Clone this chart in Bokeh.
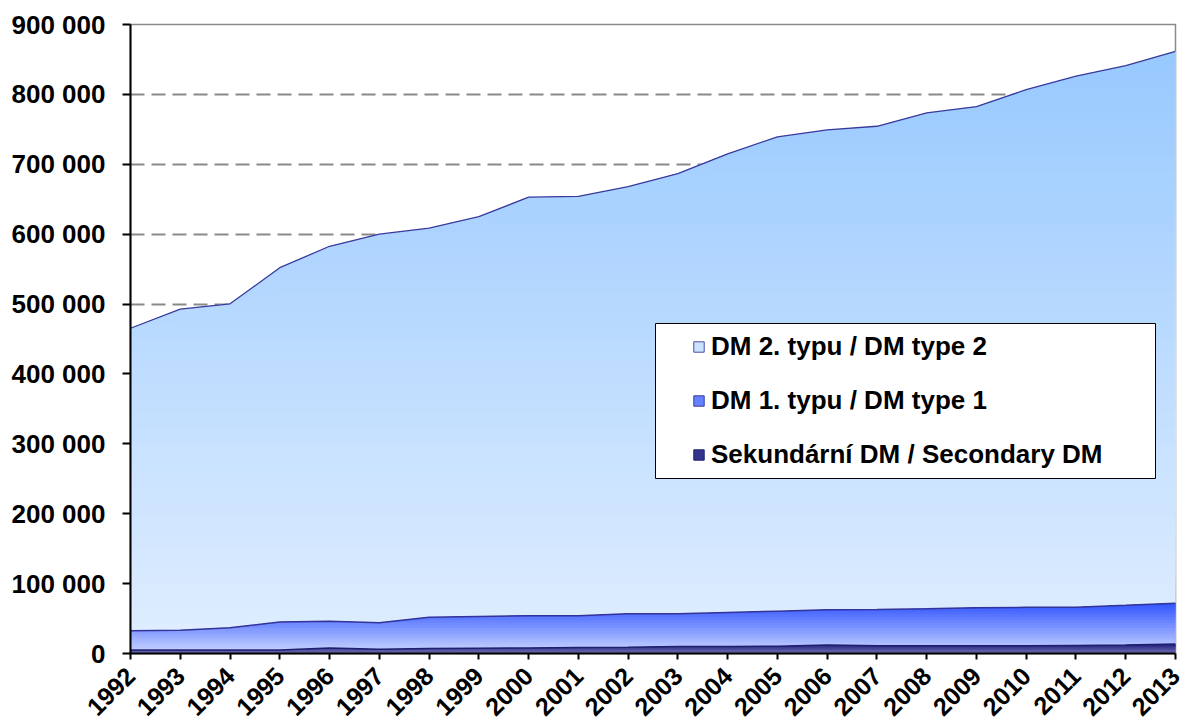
import math
import numpy as np
from bokeh.plotting import figure
from bokeh.models import Range1d, FixedTicker, Legend, LegendItem, BoxAnnotation
from bokeh.embed import file_html
from bokeh.resources import INLINE

# ---------------- data ----------------
years = list(range(1992, 2014))
secondary = [5000, 5000, 5000, 5000, 8000, 6000, 7000, 7500, 8000, 8500, 9000,
             10000, 10000, 10500, 12000, 11000, 11000, 11000, 11000, 11500, 12000, 13500]
type1 = [27500, 28400, 32000, 40000, 38000, 37900, 45000, 45500, 46000, 45500, 47800,
         46800, 48700, 50000, 50500, 52000, 53000, 54400, 55000, 54800, 57000, 58500]
type2 = [432900, 459200, 463300, 507000, 536700, 556100, 556500, 572000, 599000, 600000, 611200,
         629900, 656300, 678700, 686700, 691400, 709500, 717100, 740700, 759700, 772000, 789600]
series_names = ["DM 2. typu / DM type 2", "DM 1. typu / DM type 1", "Sekundární DM / Secondary DM"]
y_ticks = [0, 100000, 200000, 300000, 400000, 500000, 600000, 700000, 800000, 900000]
y_tick_labels = ["0", "100 000", "200 000", "300 000", "400 000", "500 000",
                 "600 000", "700 000", "800 000", "900 000"]

x = np.array(years, dtype=float)
s0 = np.zeros(len(years))
s1 = s0 + np.array(secondary, dtype=float)
s2 = s1 + np.array(type1, dtype=float)
s3 = s2 + np.array(type2, dtype=float)

FONT = "Liberation Sans"

p = figure(frame_width=1045, frame_height=629,
           x_range=Range1d(1992, 2013), y_range=Range1d(0, 900000),
           output_backend="svg", toolbar_location=None,
           min_border_left=130, min_border_right=6, min_border_top=24, min_border_bottom=72,
           background_fill_color="white", border_fill_color="white")


def hex2rgb(h):
    h = h.lstrip("#")
    return tuple(int(h[i:i + 2], 16) for i in (0, 2, 4))


def mix(c0, c1, t):
    a, b = hex2rgb(c0), hex2rgb(c1)
    return "#%02x%02x%02x" % tuple(int(round(a[i] + (b[i] - a[i]) * t)) for i in range(3))


def gradient_area(lower, upper, lo_level, hi_level, c_lo, c_hi, n):
    for k in range(n):
        level = lo_level + (hi_level - lo_level) * k / n
        y1 = np.minimum(np.maximum(level, lower), upper)
        p.varea(x=x, y1=y1, y2=upper, fill_color=mix(c_lo, c_hi, k / (n - 1)), fill_alpha=1)


# DM type 2 (light blue, vertical gradient)
gradient_area(s2, s3, 0, s3.max(), "#e0eeff", "#98c9ff", 40)
# DM type 1 (blue gradient)
gradient_area(s1, s2, 0, s2.max(), "#c8d4ff", "#3558ff", 18)
# Secondary (navy gradient)
gradient_area(s0, s1, 0, s1.max(), "#6a6ab0", "#25257f", 6)

p.line(x, s3, line_color="#3a3a9c", line_width=1.3)
p.line(x, s2, line_color="#33339a", line_width=1.5)
p.line(x, s1, line_color="#1f1f70", line_width=1.5)

# ---------------- axes & grid ----------------
p.xgrid.visible = False
p.ygrid.ticker = FixedTicker(ticks=y_ticks)
p.ygrid.grid_line_color = "#8a8a8a"
p.ygrid.grid_line_width = 2
p.ygrid.grid_line_dash = "14 7"

p.outline_line_color = "#8a8a8a"
p.outline_line_width = 1.5

for ax in (p.xaxis[0], p.yaxis[0]):
    ax.axis_line_color = "black"
    ax.axis_line_width = 2
    ax.major_tick_line_color = "black"
    ax.major_tick_line_width = 2
    ax.major_tick_in = 0
    ax.minor_tick_line_color = None
    ax.major_label_text_font = FONT
    ax.major_label_text_font_style = "bold"
    ax.major_label_text_color = "black"

p.yaxis.major_label_text_font_size = "26px"
p.yaxis.ticker = FixedTicker(ticks=y_ticks)
p.yaxis.major_label_overrides = {t: l for t, l in zip(y_ticks, y_tick_labels)}
p.yaxis.major_tick_out = 8
p.yaxis.major_label_standoff = 17

p.xaxis.major_label_text_font_size = "25px"
p.xaxis.ticker = FixedTicker(ticks=years)
p.xaxis.major_label_overrides = {y: str(y) for y in years}
p.xaxis.major_tick_out = 6
p.xaxis.major_label_standoff = 12
p.xaxis.major_label_orientation = math.pi / 4

# ---------------- legend ----------------
box = BoxAnnotation(left=525, right=1025, bottom=175, top=330,
                    left_units="screen", right_units="screen",
                    bottom_units="screen", top_units="screen",
                    fill_color="white", fill_alpha=1,
                    line_color="black", line_width=1, line_alpha=1)
p.add_layout(box)

legend_styles = [("#cce3ff", "#4a4aa8"), ("#6482ff", "#3a3a9c"), ("#34348c", "#1f1f70")]
items = []
for name, (fc, lc) in zip(series_names, legend_styles):
    # zero-size swatch renderer (hidden under the axis corner) used only for the legend glyph
    r = p.quad(left=x[:1], right=x[:1], top=s0[:1], bottom=s0[:1],
               fill_color=fc, line_color=lc, line_width=1)
    items.append(LegendItem(label=name, renderers=[r]))

legend = Legend(items=items, location=(562, 183),
                background_fill_alpha=0, border_line_color=None,
                padding=0, spacing=23, margin=0,
                glyph_width=13, glyph_height=13, label_height=29, label_standoff=6,
                label_text_font=FONT, label_text_font_style="bold",
                label_text_font_size="26px", label_text_color="black")
p.add_layout(legend)

open("out.html", "w").write(file_html(p, INLINE))
